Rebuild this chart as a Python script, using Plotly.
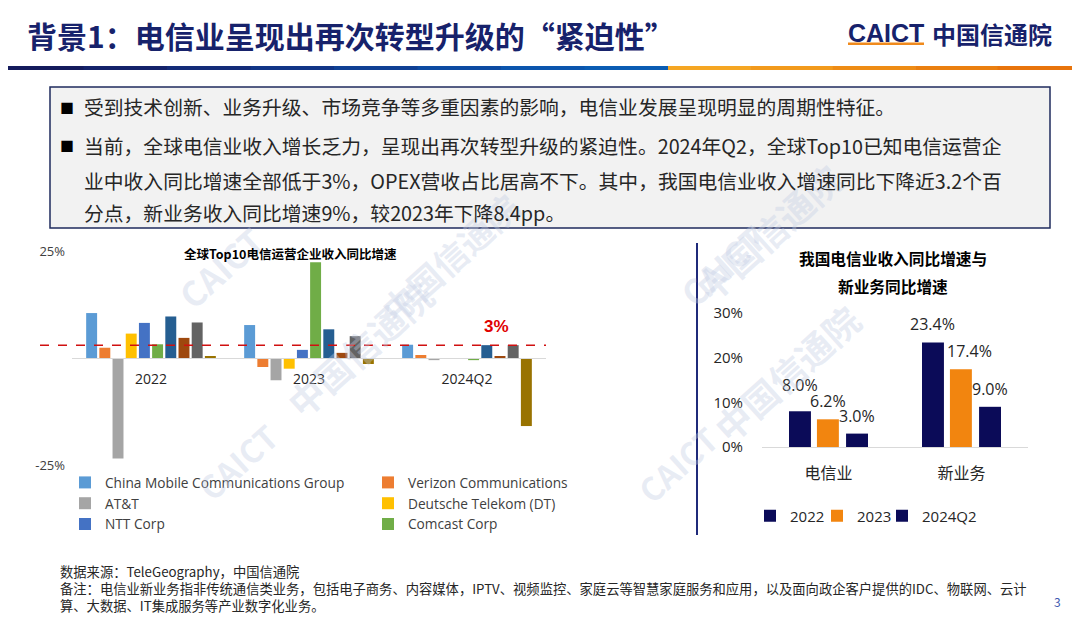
import plotly.graph_objects as go

# ---------------- data ----------------
years = ["2022", "2023", "2024Q2"]
operators = [
    "China Mobile Communications Group",
    "Verizon Communications",
    "AT&T",
    "Deutsche Telekom (DT)",
    "NTT Corp",
    "Comcast Corp",
    "运营商7",
    "运营商8",
    "运营商9",
    "运营商10",
]
growth = {
    "China Mobile Communications Group": [10.5, 7.7, 3.1],
    "Verizon Communications": [2.4, -2.1, 0.7],
    "AT&T": [-23.5, -5.2, -0.5],
    "Deutsche Telekom (DT)": [5.7, -2.5, 0.0],
    "NTT Corp": [8.2, 1.9, 0.0],
    "Comcast Corp": [3.2, 22.4, -0.5],
    "运营商7": [9.7, 6.7, 3.0],
    "运营商8": [4.7, 1.2, 0.3],
    "运营商9": [8.3, 5.1, 3.0],
    "运营商10": [0.3, -1.4, -15.9],
}
threshold = 3

cn_cats = ["电信业", "新业务"]
cn_years = ["2022", "2023", "2024Q2"]
cn_values = {
    "2022": [8.0, 23.4],
    "2023": [6.2, 17.4],
    "2024Q2": [3.0, 9.0],
}

# ---------------- styles ----------------
op_colors = ["#5B9BD5", "#ED7D31", "#A5A5A5", "#FFC000", "#4472C4",
             "#70AD47", "#255E91", "#9E480E", "#636363", "#997300"]
op_legend = ["legend", "legend2", "legend", "legend2", "legend", "legend2",
             None, None, None, None]
cn_colors = {"2022": "#0B0B58", "2023": "#F2850F", "2024Q2": "#0B0B58"}
cn_offsets = {"2022": -0.297, "2023": -0.087, "2024Q2": 0.132}
cn_width = 0.165
cn_legend = {"2022": "legend3", "2023": "legend4", "2024Q2": "legend5"}
cn_legend_x = {"legend3": 750, "legend4": 817, "legend5": 882}
# extra label nudges (px) as placed in the original slide
label_nudge = {("2022", "电信业"): (0, 8), ("2023", "新业务"): (9, 0)}

W, H = 1080, 625
OFF = 8  # page body margin
def px(x):
    return (x - OFF) / W
def py(y):
    return 1 - (y - OFF) / H

CJK = "Noto Sans CJK SC"
LAT = "Open Sans, Noto Sans CJK SC"
NAVY = "#17226B"

# right-chart x axis: 2 categories over 266 px
R_X0, R_X1 = 762, 1028
cat_px = (R_X1 - R_X0) / len(cn_cats)

fig = go.Figure()

for i, op in enumerate(operators):
    fig.add_trace(go.Bar(
        x=years, y=growth[op], name=op,
        marker=dict(color=op_colors[i], line=dict(width=0)),
        xaxis="x", yaxis="y",
        showlegend=op_legend[i] is not None,
        legend=op_legend[i] if op_legend[i] else "legend",
    ))

ann = []
for yr in cn_years:
    fig.add_trace(go.Bar(
        x=cn_cats, y=cn_values[yr], name=yr,
        marker=dict(color=cn_colors[yr], line=dict(width=0)),
        xaxis="x2", yaxis="y2",
        width=cn_width, offset=cn_offsets[yr],
        legend=cn_legend[yr],
    ))
    for c, v in zip(cn_cats, cn_values[yr]):
        dx, dy = label_nudge.get((yr, c), (0, 0))
        ann.append(dict(xref="x2", yref="y2", x=c, y=v, text=f"{v:.1f}%",
                        showarrow=False, xanchor="center", yanchor="middle",
                        xshift=(cn_offsets[yr] + cn_width / 2) * cat_px + dx,
                        yshift=18 + dy,
                        font=dict(family=LAT, size=16, color="#262626")))

shapes = []
# header gradient line
navy_steps = ["#141B5C", "#14226A", "#132B78", "#113586", "#0F4094", "#0D4BA2", "#0B55AD", "#0A5CB3"]
seg = 668 / len(navy_steps)
for k, c in enumerate(navy_steps):
    shapes.append(dict(type="rect", xref="paper", yref="paper",
                       x0=px(k * seg), x1=px((k + 1) * seg + 0.5),
                       y0=py(70), y1=py(66), fillcolor=c, line=dict(width=0), layer="below"))
orange_steps = ["#F5A623", "#F29A1C", "#EE8C15", "#EA7F10", "#E8740C"]
seg2 = (1080 - 668) / len(orange_steps)
for k, c in enumerate(orange_steps):
    shapes.append(dict(type="rect", xref="paper", yref="paper",
                       x0=px(668 + k * seg2), x1=px(668 + (k + 1) * seg2 + 0.5),
                       y0=py(70), y1=py(66), fillcolor=c, line=dict(width=0), layer="below"))
# text box
shapes.append(dict(type="rect", xref="paper", yref="paper",
                   x0=px(50), x1=px(1050), y0=py(228), y1=py(87),
                   fillcolor="#F2F2F2", line=dict(color="#1F2B5E", width=1.5), layer="below"))
# separator
shapes.append(dict(type="line", xref="paper", yref="paper",
                   x0=px(697), x1=px(697), y0=py(243), y1=py(535),
                   line=dict(color="#1F2A7A", width=2)))
# 3% line
shapes.append(dict(type="line", xref="paper", yref="y",
                   x0=px(40), x1=px(546), y0=threshold, y1=threshold,
                   line=dict(color="#D01010", width=1.5, dash="dash")))
# logo underline
shapes.append(dict(type="rect", xref="paper", yref="paper",
                   x0=px(848), x1=px(924), y0=py(45), y1=py(42.5),
                   fillcolor="#F08A1C", line=dict(width=0)))

def text(x, y, s, size, color="#262626", family=CJK, xanchor="left", bold=False, **kw):
    if bold:
        s = f"<b>{s}</b>"
    ann.append(dict(xref="paper", yref="paper", x=px(x), y=py(y), text=s,
                    showarrow=False, xanchor=xanchor, yanchor="middle",
                    font=dict(family=family, size=size, color=color), **kw))

# watermarks
wm = "rgba(195,205,228,0.38)"
for (x, y, s, sz) in [(165, 268, "CAICT", 34), (450, 180, "中国信通院", 34),
                      (185, 512, "CAICT", 32), (272, 430, "中国信通院", 36),
                      (722, 265, "CAICT", 34), (855, 150, "中国信通院", 36),
                      (730, 515, "CAICT", 32), (873, 455, "中国信通院", 36)]:
    ann.append(dict(xref="paper", yref="paper", x=px(x), y=py(y), text=f"<b>{s}</b>",
                    showarrow=False, textangle=-42,
                    font=dict(family=CJK, size=sz, color=wm)))

text(25, 35, "背景1：电信业呈现出再次转型升级的“紧迫性”", 30, NAVY, bold=True)
text(846, 33, "CAICT", 25, NAVY, family="Liberation Sans", bold=True)
text(930, 34, "中国信通院", 24, NAVY, bold=True)

body = 19.8
text(58, 107, "■", 14, "#000000")
text(82, 107, "受到技术创新、业务升级、市场竞争等多重因素的影响，电信业发展呈现明显的周期性特征。", body)
text(58, 145, "■", 14, "#000000")
text(82, 145, "当前，全球电信业收入增长乏力，呈现出再次转型升级的紧迫性。2024年Q2，全球Top10已知电信运营企", body)
text(82, 180, "业中收入同比增速全部低于3%，OPEX营收占比居高不下。其中，我国电信业收入增速同比下降近3.2个百", body)
text(82, 212, "分点，新业务收入同比增速9%，较2023年下降8.4pp。", body)

text(290, 253, "全球Top10电信运营企业收入同比增速", 12.5, "#000000", xanchor="center", bold=True)
text(496, 326, "3%", 17, "#E00000", family="Liberation Sans", xanchor="center", bold=True)
text(893, 258, "我国电信业收入同比增速与", 15.7, "#000000", xanchor="center", bold=True)
text(893, 286, "新业务同比增速", 15.7, "#000000", xanchor="center", bold=True)

foot = 13.3
text(58, 571, "数据来源：TeleGeography，中国信通院", foot)
text(58, 588, "备注：电信业新业务指非传统通信类业务，包括电子商务、内容媒体，IPTV、视频监控、家庭云等智慧家庭服务和应用，以及面向政企客户提供的IDC、物联网、云计", foot)
text(58, 605, "算、大数据、IT集成服务等产业数字化业务。", foot)
text(1057, 601, "3", 12, "#4058B0", xanchor="center")

legend_font = dict(family=LAT, size=13.7, color="#404040")
leg_right_font = dict(family=LAT, size=15, color="#262626")
legends = dict(
    legend=dict(x=px(65), y=py(467), xanchor="left", yanchor="top",
                orientation="v", font=legend_font, itemwidth=30,
                bgcolor="rgba(0,0,0,0)", traceorder="normal"),
    legend2=dict(x=px(368), y=py(467), xanchor="left", yanchor="top",
                 orientation="v", font=legend_font, itemwidth=30,
                 bgcolor="rgba(0,0,0,0)", traceorder="normal"),
)
for lg, lx in cn_legend_x.items():
    legends[lg] = dict(x=px(lx), y=py(516), xanchor="left", yanchor="middle",
                       orientation="h", font=leg_right_font, itemwidth=30,
                       bgcolor="rgba(0,0,0,0)")

fig.update_layout(
    width=W, height=H,
    margin=dict(l=0, r=0, t=0, b=0, autoexpand=False),
    paper_bgcolor="white", plot_bgcolor="rgba(0,0,0,0)",
    barmode="group", bargap=0.165, bargroupgap=0.17,
    xaxis=dict(domain=[px(72), px(546)], anchor="free",
               position=(py(465) + py(251)) / 2, automargin=False,
               showline=True, linecolor="#D9D9D9", linewidth=1,
               ticks="", showgrid=False, ticklabelstandoff=8,
               tickfont=dict(family=LAT, size=14, color="#262626"),
               categoryorder="array", categoryarray=years, fixedrange=True),
    yaxis=dict(domain=[py(465), py(251)], anchor="x", range=[-25, 25], automargin=False,
               tickvals=[-25, 25], ticktext=["-25%", "25%"],
               showgrid=False, zeroline=False, showline=False, ticks="",
               ticklabelstandoff=6,
               tickfont=dict(family=LAT, size=13, color="#404040"), fixedrange=True),
    xaxis2=dict(domain=[px(R_X0), px(R_X1)], anchor="y2", automargin=False,
                showline=True, linecolor="#D9D9D9", linewidth=1,
                ticks="", showgrid=False, ticklabelstandoff=12,
                tickfont=dict(family=CJK, size=16, color="#262626"), fixedrange=True),
    yaxis2=dict(domain=[py(447), py(313)], anchor="x2", range=[0, 30], automargin=False,
                tickvals=[0, 10, 20, 30], ticktext=["0%", "10%", "20%", "30%"],
                showgrid=False, zeroline=False, showline=False, ticks="",
                ticklabelstandoff=18,
                tickfont=dict(family=LAT, size=15, color="#262626"), fixedrange=True),
    shapes=shapes, annotations=ann,
    showlegend=True,
    **legends,
)

fig.write_html("out.html")
